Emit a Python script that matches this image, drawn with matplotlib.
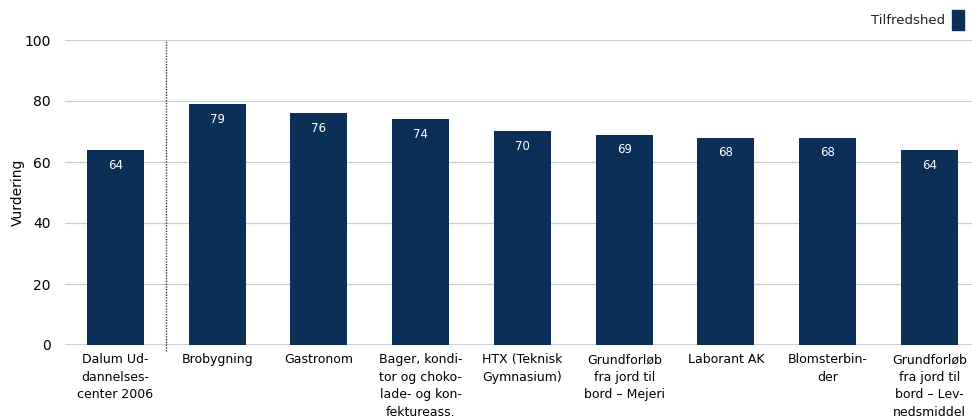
import matplotlib.pyplot as plt
import numpy as np

categories = ['Dalum Ud-\ndannelses-\ncenter 2006', 'Brobygning', 'Gastronom',
              'Bager, kondi-\ntor og choko-\nlade- og kon-\nfektureass.',
              'HTX (Teknisk\nGymnasium)', 'Grundforløb\nfra jord til\nbord – Mejeri',
              'Laborant AK', 'Blomsterbin-\nder', 'Grundforløb\nfra jord til\nbord – Lev-\nnedsmiddel']
values = [64, 79, 76, 74, 70, 69, 68, 68, 64]
yticks = [0, 20, 40, 60, 80, 100]

plt.rcParams['font.family'] = ['DejaVu Sans']
bar_color = '#0b2f57'

fig = plt.figure(figsize=(9.72, 4.2), dpi=100)
# axes extends a bit past the right edge, like the reference
ax = fig.add_axes([64.6/972, 75/420, 915.75/972, 305/420])

x = np.arange(len(values))
ax.bar(x, values, width=0.56, color=bar_color, zorder=3)
for xi, v in zip(x, values):
    ax.annotate(str(v), (xi, v), xytext=(0, -11), textcoords='offset points',
                ha='center', va='center', color='white', fontsize=8.5, zorder=4)

ax.set_xlim(-0.5, len(values) - 0.5)
ax.set_ylim(0, 100)
ax.set_yticks(yticks)
ax.set_xticks(x)
ax.set_xticklabels(categories, fontsize=9, linespacing=1.45, va='top')
ax.tick_params(axis='both', length=0, labelsize=10)
ax.tick_params(axis='x', labelsize=9, pad=6)
ax.tick_params(axis='y', pad=10)
ax.grid(True, axis='y', color='#cccccc', linewidth=0.9, zorder=0)
ax.axhline(0, color='#cccccc', linewidth=2, zorder=2)
for s in ax.spines.values():
    s.set_visible(False)

# dotted separator after the first bar
ax.axvline(0.5, ymin=-0.02, ymax=1, color='#333333', linestyle=(0, (1, 1)),
           linewidth=1, clip_on=False, zorder=2)

ax.set_ylabel('Vurdering', fontsize=10)
ax.yaxis.set_label_coords(-40/915.75, 0.5)

# legend
fig.text(945/972, 1 - 20/420, 'Tilfredshed', ha='right', va='center', fontsize=9.5, color='#222222')
fig.patches.append(plt.Rectangle((952/972, 1 - 30/420), 12/972, 20/420,
                                 transform=fig.transFigure, color=bar_color))

fig.savefig('out.png', dpi=100)
